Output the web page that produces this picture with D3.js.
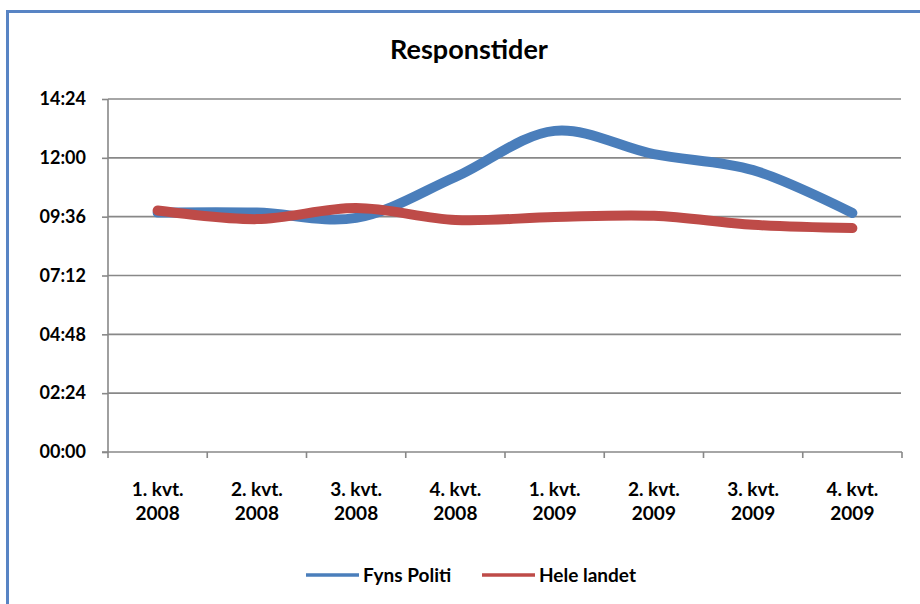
<!DOCTYPE html>
<meta charset="utf-8" />
<html>
<head>
<title>Responstider</title>
<script src="https://cdn.jsdelivr.net/npm/d3@7"></script>
<style>
  body { margin: 0; background: #fff; }
  svg text { font-family: Lato, "Open Sans", sans-serif; font-weight: bold; fill: #000; }
</style>
</head>
<body>
<div id="viz"></div>
<script>

// quarters and response times in seconds
var quarters = ["1. kvt.|2008", "2. kvt.|2008", "3. kvt.|2008", "4. kvt.|2008",
                "1. kvt.|2009", "2. kvt.|2009", "3. kvt.|2009", "4. kvt.|2009"];
var fynsPoliti = [586, 586, 573, 673, 786, 729, 690, 585];
var heleLandet = [591, 570, 597, 568, 575, 578, 556, 548];
var seriesNames = ["Fyns Politi", "Hele landet"];
var seriesColors = ["#4a7ebb", "#be4b48"];
var yTicks = [0, 144, 288, 432, 576, 720, 864];

var width = 920,
    height = 604;
var svg = d3.select("#viz").append("svg")
    .attr("width", width)
    .attr("height", height);

// outer chart border (runs off the right and bottom edges)
svg.append("rect")
  .attr("x", 7.5).attr("y", 11.5)
  .attr("width", 940).attr("height", 620)
  .style("fill", "none")
  .style("stroke", "#5884c4")
  .style("stroke-width", 3);

svg.append("text")
  .attr("x", 469).attr("y", 59)
  .attr("text-anchor", "middle")
  .style("font-size", "27px")
  .text("Responstider");

var pLeft = 108, pRight = 902, pTop = 99, pBottom = 452;
var x = d3.scaleBand().domain(quarters).range([pLeft, pRight]);
var y = d3.scaleLinear().domain([0, 864]).range([pBottom, pTop]);

function mmss(s) {
  return d3.format("02")(Math.floor(s / 60)) + ":" + d3.format("02")(s % 60);
}

// gridlines
svg.append("g").selectAll("line")
  .data(yTicks.slice(1))
  .enter().append("line")
  .attr("class", "grid")
  .attr("x1", pLeft).attr("x2", pRight - 1)
  .attr("y1", function(d) { return y(d); })
  .attr("y2", function(d) { return y(d); });

// y axis
var yAxis = svg.append("g")
  .attr("transform", "translate(" + pLeft + ",0)")
  .call(d3.axisLeft(y).tickValues(yTicks).tickFormat(mmss).tickSize(6).tickPadding(16));
yAxis.selectAll("text").style("font-size", "18px");

// x axis: ticks sit on the band edges
var xAxis = svg.append("g")
  .attr("transform", "translate(0," + pBottom + ")")
  .call(d3.axisBottom(x).tickSize(0).tickPadding(0));
xAxis.selectAll(".tick text").remove();
xAxis.selectAll(".edge")
  .data(quarters.concat([null]))
  .enter().append("line")
  .attr("x1", function(d, i) { return pLeft + i * x.bandwidth(); })
  .attr("x2", function(d, i) { return pLeft + i * x.bandwidth(); })
  .attr("y1", 0).attr("y2", 6);
xAxis.selectAll(".tick")
  .append("text")
  .style("font-size", "19px")
  .attr("text-anchor", "middle")
  .selectAll("tspan")
  .data(function(d) { return d.split("|"); })
  .enter().append("tspan")
  .attr("x", 0)
  .attr("y", function(d, i) { return 44 + i * 24; })
  .text(function(d) { return d; });

svg.selectAll(".domain, .tick line, g line")
  .style("stroke", "#888888")
  .style("stroke-width", 1.6);
yAxis.select(".domain").attr("d", "M0," + pBottom + "V" + pTop);
xAxis.select(".domain").attr("d", "M" + (pLeft - 6) + ",0H" + pRight);

// smooth lines
var line = d3.line()
  .x(function(d, i) { return x(quarters[i]) + x.bandwidth() / 2; })
  .y(function(d) { return y(d); })
  .curve(d3.curveCatmullRom.alpha(0.5));

[fynsPoliti, heleLandet].forEach(function(vals, k) {
  svg.append("path")
    .datum(vals)
    .attr("d", line)
    .style("fill", "none")
    .style("stroke", seriesColors[k])
    .style("stroke-width", 10)
    .style("stroke-linecap", "round")
    .style("stroke-linejoin", "round");
});

// legend
var legendX = [306, 482];
var legend = svg.selectAll(".legend")
  .data(seriesNames)
  .enter().append("g")
  .attr("transform", function(d, i) { return "translate(" + legendX[i] + ",575)"; });
legend.append("line")
  .attr("x1", 0).attr("x2", 53)
  .style("stroke", function(d, i) { return seriesColors[i]; })
  .style("stroke-width", 3.5);
legend.append("text")
  .attr("x", 57).attr("y", 7)
  .style("font-size", "19px")
  .text(function(d) { return d; });

</script>
</body>
</html>
